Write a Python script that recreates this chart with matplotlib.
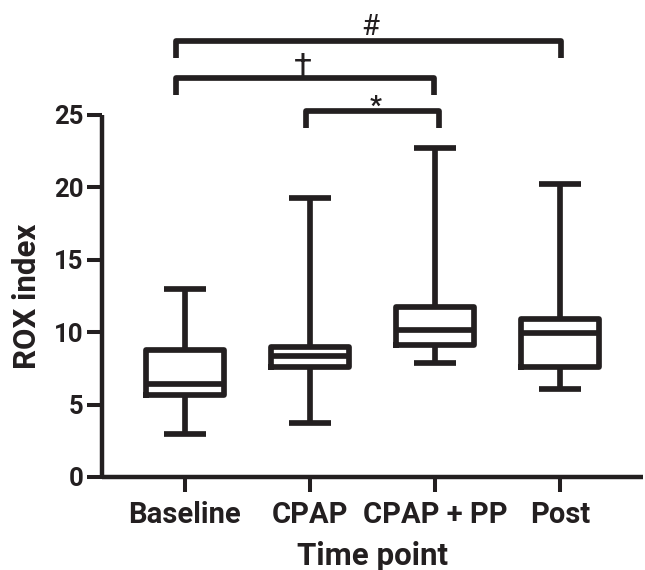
import matplotlib
matplotlib.use("Agg")
import matplotlib.pyplot as plt

# ---- data ----
categories = ["Baseline", "CPAP", "CPAP + PP", "Post"]
whisker_low = [3.0, 3.75, 7.9, 6.05]
q1 = [5.64, 7.62, 9.09, 7.62]
medians = [6.4, 8.38, 10.15, 9.97]
q3 = [8.75, 9.0, 11.76, 10.93]
whisker_high = [12.96, 19.25, 22.74, 20.26]
yticks = [0, 5, 10, 15, 20, 25]

# significance brackets
bracket_from = [0, 0, 1]
bracket_to = [3, 2, 2]
bracket_labels = ["#", "\u2020", "*"]

INK = "#231f20"
plt.rcParams["font.family"] = ["Roboto", "Liberation Sans", "DejaVu Sans"]

fig = plt.figure(figsize=(6.45, 5.70), dpi=100)
ax = fig.add_axes([0.1581, 0.1632, 0.8388, 0.6351])

stats = []
for i, name in enumerate(categories):
    stats.append(dict(label=name, whislo=whisker_low[i], q1=q1[i], med=medians[i],
                      q3=q3[i], whishi=whisker_high[i], fliers=[]))

lw = 4.1
positions = list(range(len(categories)))
ax.bxp(stats, positions=positions, widths=0.62, capwidths=0.33, showfliers=False,
       boxprops=dict(color=INK, lw=lw, solid_joinstyle="round"),
       whiskerprops=dict(color=INK, lw=lw, solid_capstyle="butt"),
       capprops=dict(color=INK, lw=lw, solid_capstyle="butt"),
       medianprops=dict(color=INK, lw=lw, solid_capstyle="butt"))

ax.set_xlim(-0.664, 3.664)
ax.set_ylim(0, 25)
ax.set_yticks(yticks)
ax.set_xticks(positions)
ax.set_xticklabels(categories)

for s in ("top", "right"):
    ax.spines[s].set_visible(False)
for s in ("left", "bottom"):
    ax.spines[s].set_linewidth(3.2)
    ax.spines[s].set_color(INK)
    ax.spines[s].set_capstyle("butt")

ax.tick_params(axis="both", direction="out", length=10.5, width=2.9, color=INK)
ax.tick_params(axis="y", pad=2.5, labelsize=18.5, labelcolor=INK)
ax.tick_params(axis="x", pad=6.5, labelsize=21, labelcolor=INK)
for t in ax.get_xticklabels() + ax.get_yticklabels():
    t.set_fontweight("bold")

ax.set_ylabel("ROX index", fontsize=22.5, fontweight="bold", color=INK, labelpad=9)
ax.set_xlabel("Time point", fontsize=22.5, fontweight="bold", color=INK, labelpad=9)

# brackets (layout)
levels = [30.14, 27.58, 25.30]
leg = 1.22
x_off_left = [-0.07, -0.07, -0.03]
x_off_right = [0.005, -0.01, 0.03]
for k in range(len(bracket_labels)):
    x1 = bracket_from[k] + x_off_left[k]
    x2 = bracket_to[k] + x_off_right[k]
    y = levels[k]
    ax.plot([x1, x1, x2, x2], [y - leg, y, y, y - leg], color=INK, lw=lw,
            solid_joinstyle="round", solid_capstyle="butt", clip_on=False)

ax.text(1.48, 30.52, bracket_labels[0], ha="center", va="baseline", fontsize=21,
        color=INK, clip_on=False)
ax.text(0.94, 27.62, bracket_labels[1], ha="center", va="baseline", fontsize=23.5,
        color=INK, clip_on=False)
ax.text(1.525, 25.1, bracket_labels[2], ha="center", va="baseline", fontsize=19,
        fontweight="bold", color=INK, clip_on=False)

fig.savefig("out.png", dpi=100)
